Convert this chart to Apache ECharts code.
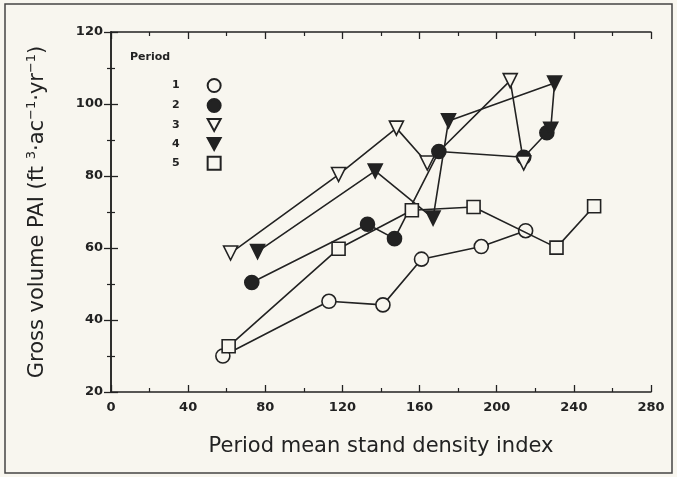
<!DOCTYPE html>
<html>
<head>
<meta charset="utf-8">
<script src="https://cdn.jsdelivr.net/npm/echarts@6/dist/echarts.min.js"></script>
<style>
  html, body { margin: 0; padding: 0; background: #f8f6ef; }
  #chart { width: 677px; height: 477px; }
</style>
</head>
<body>
<div id="chart"></div>
<script>
// Gross volume periodic annual increment vs. stand density index, by period
const periodNames = ['1', '2', '3', '4', '5'];

const period1 = [[58, 30], [113, 45.2], [141, 44.2], [161, 56.9], [192, 60.4], [215, 64.8]];
const period2 = [[73, 50.4], [133, 66.6], [147, 62.6], [170, 86.8], [214, 85.2], [226, 92]];
const period3 = [[62, 58.6], [118, 80.4], [148, 93.3], [164, 83.6], [207, 106.5], [214, 83.6]];
const period4 = [[76, 59], [137, 81.4], [167, 68.3], [175, 95.3], [230, 105.8], [228, 93]];
const period5 = [[61, 32.7], [118, 59.8], [156, 70.5], [188, 71.4], [231, 60.1], [250.5, 71.6]];

const xTicks = { min: 0, max: 280, step: 40 };
const yTicks = { min: 20, max: 120, step: 20 };

const ink = '#222';
const paper = '#f8f6ef';
const font = 'DejaVu Sans';
const downTri = 'path://M0,0 L12,0 L6,11 Z';

const markers = [
  { data: period1, symbol: 'circle', filled: false },
  { data: period2, symbol: 'circle', filled: true },
  { data: period3, symbol: downTri, filled: false },
  { data: period4, symbol: downTri, filled: true },
  { data: period5, symbol: 'rect', filled: false }
];

const series = markers.map((m, i) => ({
  name: periodNames[i],
  type: 'line',
  data: m.data,
  symbol: m.symbol,
  symbolSize: m.symbol === 'rect' ? 13 : 14,
  showAllSymbol: true,
  lineStyle: { color: ink, width: 1.6 },
  itemStyle: {
    color: m.filled ? ink : paper,
    borderColor: ink,
    borderWidth: 1.6
  },
  z: 2 + i,
  animation: false
}));

const axisCommon = {
  type: 'value',
  axisLine: { show: true, lineStyle: { color: ink, width: 1.5 } },
  axisTick: { show: true, inside: true, length: 7, lineStyle: { color: ink, width: 1.3 } },
  minorTick: { show: true, splitNumber: 2, length: 4, lineStyle: { color: ink, width: 1.2 } },
  splitLine: { show: false }
};

const labelStyle = { color: ink, fontFamily: font, fontSize: 13, fontWeight: 'bold' };

const chart = echarts.init(document.getElementById('chart'), null, { renderer: 'canvas' });
chart.setOption({
  backgroundColor: paper,
  animation: false,
  grid: { left: 111, right: 26, top: 32, bottom: 85 },
  title: {
    text: 'Period',
    left: 130, top: 52, padding: 0,
    textStyle: { fontFamily: font, fontSize: 11, fontWeight: 'bold', color: ink }
  },
  legend: {
    orient: 'vertical',
    left: 172, top: 78,
    padding: 0,
    align: 'right',
    itemWidth: 13, itemHeight: 13,
    itemGap: 5,
    textStyle: { fontFamily: font, fontSize: 11, fontWeight: 'bold', color: ink, padding: [0, 23, 0, 0] },
    data: markers.map((m, i) => ({ name: periodNames[i], icon: m.symbol }))
  },
  xAxis: [
    Object.assign({}, axisCommon, {
      position: 'bottom',
      min: xTicks.min, max: xTicks.max, interval: xTicks.step,
      axisLabel: Object.assign({ margin: 9 }, labelStyle),
      name: 'Period mean stand density index',
      nameLocation: 'middle',
      nameGap: 44,
      nameTextStyle: { fontFamily: font, fontSize: 21, color: ink }
    }),
    Object.assign({}, axisCommon, {
      position: 'top',
      min: xTicks.min, max: xTicks.max, interval: xTicks.step,
      axisLabel: { show: false }
    })
  ],
  yAxis: [
    Object.assign({}, axisCommon, {
      position: 'left',
      min: yTicks.min, max: yTicks.max, interval: yTicks.step,
      axisLabel: Object.assign({ margin: 8 }, labelStyle),
      name: '{a|Gross volume PAI (ft }{s|3}{a|·ac}{s|−1}{a|·yr}{s|−1}{a|)}',
      nameLocation: 'middle',
      nameGap: 60,
      nameTextStyle: {
        rich: {
          a: { fontFamily: font, fontSize: 21, color: ink, lineHeight: 26 },
          s: { fontFamily: font, fontSize: 13, color: ink, padding: [0, 0, 12, 0], lineHeight: 26 }
        }
      }
    }),
    Object.assign({}, axisCommon, {
      position: 'right',
      min: yTicks.min, max: yTicks.max, interval: yTicks.step,
      axisLabel: { show: false }
    })
  ],
  graphic: [{
    type: 'rect',
    silent: true,
    shape: { x: 5, y: 4, width: 667, height: 469 },
    style: { fill: 'none', stroke: '#444', lineWidth: 1.5 },
    z: 100
  }],
  series: series
});
</script>
</body>
</html>
